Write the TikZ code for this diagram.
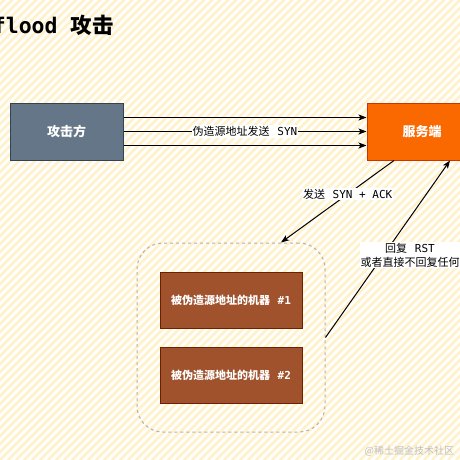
\documentclass[tikz,border=0pt]{standalone}
\usepackage{fontspec}
\setmainfont{Noto Sans CJK SC}
\setmonofont{DejaVu Sans Mono}
\usetikzlibrary{arrows.meta,positioning}
\definecolor{atkfill}{HTML}{647687}
\definecolor{atkline}{HTML}{314354}
\definecolor{srvfill}{HTML}{FA6800}
\definecolor{srvline}{HTML}{C73500}
\definecolor{machfill}{HTML}{A0522D}
\definecolor{machline}{HTML}{6D1F00}
\definecolor{stripecol}{HTML}{FFF1C9}
\newcommand{\lat}[1]{{\ttfamily #1}}
\newcommand{\gap}{\hspace{0.7em}}

\begin{document}
\begin{tikzpicture}[x=1pt, y=-1pt, line width=1pt,
  lbl/.style={inner sep=1pt, fill=white, font=\fontsize{11}{14}\selectfont},
  box/.style={draw, line width=1pt, minimum height=57pt, text=white, font=\bfseries\fontsize{13}{15}\selectfont},
  mach/.style={box, fill=machfill, draw=machline, minimum width=142pt, minimum height=56pt, font=\bfseries\fontsize{11}{13}\selectfont},
  arr/.style={-{Stealth[length=8pt, width=6pt, inset=2pt]}}]
\useasboundingbox (0,0) rectangle (460,460);
\begin{scope}
\clip (0,0) rectangle (460,460);
\fill[white] (0,0) rectangle (460,460);
\foreach \i in {-464,-456,...,464}{\draw[stripecol, line width=2.6pt] (\i,460) -- ++(460,-460);}
\end{scope}
\node[anchor=east, inner sep=0pt, font=\bfseries\fontsize{21.5}{24}\selectfont] (ttl) at (114,25) {\lat{flood}\hspace{0.6em}攻击};
\node[box, fill=atkfill, draw=atkline, minimum width=113pt] (atk) at (66.5,131.5) {攻击方};
\node[box, fill=srvfill, draw=srvline, minimum width=110pt] (srv) at (422,131.5) {服务端};
\node[draw=black!30, dashed, rounded corners=26pt, minimum width=188pt, minimum height=189pt] (grp) at (231,337.5) {};
\node[mach] (m1) at (231,300) {被伪造源地址的机器\gap\lat{\#1}};
\node[mach] (m2) at (231,375) {被伪造源地址的机器\gap\lat{\#2}};
\foreach \d in {-14,14}{\draw[arr] ([yshift=\d pt]atk.east) -- ([yshift=\d pt]srv.west);}
\draw[arr] (atk) -- node[lbl] (syn) {伪造源地址发送\gap\lat{SYN}} (srv);
\draw[arr] ([xshift=-28pt]srv.south) -- node[lbl, pos=0.41] (ack) {发送\gap\lat{SYN + ACK}} ([xshift=50pt]grp.north);
\draw[arr] (grp.east) -- ([xshift=28pt]srv.south);
\node[lbl, align=center] (rst) at (410,255) {回复\gap\lat{RST}\\或者直接不回复任何};
\node[anchor=east, text=black!25, font=\fontsize{10}{12}\selectfont] (wm) at (458,451) {@稀土掘金技术社区};
\end{tikzpicture}
\end{document}
